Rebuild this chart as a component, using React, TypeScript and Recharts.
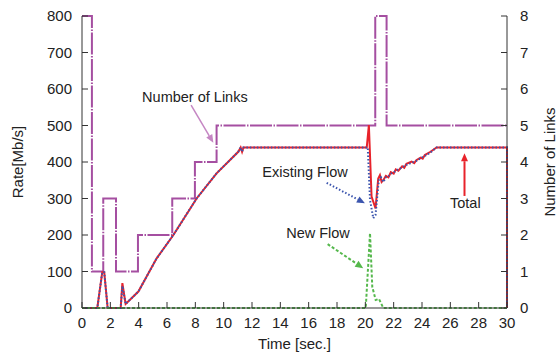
import React from "react";
import {
  ComposedChart,
  Line,
  XAxis,
  YAxis,
  ReferenceLine,
  ReferenceDot,
} from "recharts";

// tick values
const timeTicks = [0, 2, 4, 6, 8, 10, 12, 14, 16, 18, 20, 22, 24, 26, 28, 30];
const rateTicks = [0, 100, 200, 300, 400, 500, 600, 700, 800];
const linkTicks = [0, 1, 2, 3, 4, 5, 6, 7, 8];

// number of links (step)
const linkT = [0, 0.7, 1.5, 2.4, 3.95, 6.37, 7.97, 9.5, 20.7, 21.5, 30];
const linkN = [8, 1, 3, 1, 2, 3, 4, 5, 8, 5, 5];

// total rate
const totalT = [
  0, 1.08, 1.43, 1.57, 1.81, 2.73, 2.85, 3.08, 3.98, 5.27, 6.45, 8.09, 9.5,
  11.03, 11.2, 11.3, 11.4, 20.1, 20.25, 20.44, 20.72, 20.91, 21.03, 21.15,
  21.27, 21.45, 21.63, 21.8, 22.0, 22.15, 22.33, 22.6, 22.75, 22.9, 23.27,
  23.45, 23.6, 23.9, 24.05, 24.2, 24.6, 25.03, 30, 30,
];
const totalV = [
  0, 0, 98, 98, 0, 0, 68, 11, 45, 136, 200, 300, 369, 428, 440, 428, 440, 440,
  501, 305, 273, 355, 364, 345, 350, 362, 358, 372, 368, 380, 376, 388, 384,
  395, 401, 397, 405, 412, 409, 419, 428, 440, 440, 0,
];

// existing flow
const existT = [
  0, 1.08, 1.43, 1.57, 1.81, 2.73, 2.85, 3.08, 3.98, 5.27, 6.45, 8.09, 9.5,
  11.03, 11.2, 11.3, 11.4, 20.17, 20.33, 20.56, 20.72, 20.95, 21.1, 21.27,
  21.45, 21.63, 21.8, 22.0, 22.33, 22.6, 22.9, 23.27, 23.6, 23.9, 24.2, 24.6,
  25.03, 30, 30,
];
const existV = [
  0, 0, 98, 98, 0, 0, 60, 11, 45, 136, 200, 300, 369, 428, 440, 428, 440, 440,
  296, 246, 255, 350, 358, 345, 358, 360, 368, 372, 380, 385, 392, 398, 403,
  410, 417, 426, 440, 440, 0,
];

// new flow
const newT = [0, 20.03, 20.33, 20.49, 20.73, 20.96, 21.27, 30];
const newV = [0, 0, 205, 58, 22, 25, 0, 0];

const toSeries = (ts: number[], vs: number[]) =>
  ts.map((t, i) => ({ t, v: vs[i] }));

const linkData = toSeries(linkT, linkN);
const totalData = toSeries(totalT, totalV);
const existData = toSeries(existT, existV);
const newData = toSeries(newT, newV);

const PURPLE = "#a54fa1";
const RED = "#e8232b";
const BLUE = "#3b55ae";
const GREEN = "#55b84c";
const TEXT = "#222";
const FONT = "'Liberation Sans', Arial, sans-serif";

function arrow(color: string, dash?: string, width = 2) {
  return (p: any) => {
    const { x1, y1, x2, y2 } = p;
    const a = Math.atan2(y2 - y1, x2 - x1);
    const L = 8;
    const W = 3.5;
    const bx = x2 - L * Math.cos(a);
    const by = y2 - L * Math.sin(a);
    const pts = `${x2},${y2} ${bx + W * Math.sin(a)},${by - W * Math.cos(a)} ${
      bx - W * Math.sin(a)
    },${by + W * Math.cos(a)}`;
    return (
      <g>
        <line
          x1={x1}
          y1={y1}
          x2={bx}
          y2={by}
          stroke={color}
          strokeWidth={width}
          strokeDasharray={dash}
        />
        <polygon points={pts} fill={color} />
      </g>
    );
  };
}

const labelStyle = { fontSize: 14.5, fill: TEXT, fontFamily: FONT };

export default function App() {
  return (
    <div style={{ width: 559, height: 356, fontFamily: FONT, background: "#fff" }}>
      <style>{"body{margin:0}"}</style>
      <ComposedChart
        width={559}
        height={356}
        margin={{ top: 16, right: 0, bottom: 0, left: 0 }}
      >
        <XAxis
          xAxisId="b"
          dataKey="t"
          type="number"
          domain={[0, 30]}
          ticks={timeTicks}
          height={48}
          tickSize={-6}
          tickMargin={15}
          stroke="#333"
          tick={{ fill: TEXT, fontSize: 15 }}
          label={{
            value: "Time [sec.]",
            position: "insideBottom",
            offset: 7,
            style: { ...labelStyle, fontSize: 15 },
          }}
        />
        <XAxis
          xAxisId="top"
          orientation="top"
          dataKey="t"
          type="number"
          domain={[0, 30]}
          ticks={timeTicks}
          height={0}
          tickSize={-6}
          stroke="#333"
          tick={() => <g />}
        />
        <YAxis
          yAxisId="left"
          domain={[0, 800]}
          ticks={rateTicks}
          width={82}
          tickSize={-6}
          tickMargin={16}
          stroke="#333"
          tick={{ fill: TEXT, fontSize: 15 }}
          label={{
            value: "Rate[Mb/s]",
            angle: -90,
            position: "insideLeft",
            offset: 18,
            style: { ...labelStyle, fontSize: 15, textAnchor: "middle" },
          }}
        />
        <YAxis
          yAxisId="right"
          orientation="right"
          domain={[0, 8]}
          ticks={linkTicks}
          width={52}
          tickSize={-6}
          tickMargin={19}
          stroke="#333"
          tick={{ fill: TEXT, fontSize: 15 }}
          label={{
            value: "Number of Links",
            angle: -90,
            position: "insideRight",
            offset: 9,
            style: { ...labelStyle, fontSize: 15, textAnchor: "middle" },
          }}
        />

        <Line
          xAxisId="b"
          yAxisId="right"
          data={linkData}
          dataKey="v"
          type="stepAfter"
          stroke={PURPLE}
          strokeWidth={2}
          strokeDasharray="22 1.5 1.5 1.5"
          dot={false}
          isAnimationActive={false}
        />
        <Line
          xAxisId="b"
          yAxisId="left"
          data={totalData}
          dataKey="v"
          type="linear"
          stroke={RED}
          strokeWidth={2}
          dot={false}
          isAnimationActive={false}
        />
        <Line
          xAxisId="b"
          yAxisId="left"
          data={existData}
          dataKey="v"
          type="linear"
          stroke={BLUE}
          strokeWidth={2}
          strokeDasharray="1.5 2"
          dot={false}
          isAnimationActive={false}
        />
        <Line
          xAxisId="b"
          yAxisId="left"
          data={newData}
          dataKey="v"
          type="linear"
          stroke={GREEN}
          strokeWidth={2}
          strokeDasharray="3 2"
          dot={false}
          isAnimationActive={false}
        />

        {/* annotations */}
        <ReferenceLine
          xAxisId="b"
          yAxisId="left"
          segment={[
            { x: 7.7, y: 556 },
            { x: 9.27, y: 453 },
          ]}
          shape={arrow("#c586c3", undefined, 1.5)}
        />
        <ReferenceDot
          xAxisId="b"
          yAxisId="left"
          x={7.97}
          y={578}
          r={0}
          fill="none"
          stroke="none"
          label={{ value: "Number of Links", position: "center", ...labelStyle }}
        />
        <ReferenceLine
          xAxisId="b"
          yAxisId="left"
          segment={[
            { x: 17.27, y: 343 },
            { x: 19.97, y: 287 },
          ]}
          shape={arrow(BLUE, "1.5 2")}
        />
        <ReferenceDot
          xAxisId="b"
          yAxisId="left"
          x={15.74}
          y={373}
          r={0}
          fill="none"
          stroke="none"
          label={{ value: "Existing Flow", position: "center", ...labelStyle }}
        />
        <ReferenceLine
          xAxisId="b"
          yAxisId="left"
          segment={[
            { x: 17.34, y: 175 },
            { x: 19.85, y: 109 },
          ]}
          shape={arrow(GREEN, "3 2")}
        />
        <ReferenceDot
          xAxisId="b"
          yAxisId="left"
          x={16.66}
          y={206}
          r={0}
          fill="none"
          stroke="none"
          label={{ value: "New Flow", position: "center", ...labelStyle }}
        />
        <ReferenceLine
          xAxisId="b"
          yAxisId="left"
          segment={[
            { x: 27, y: 307 },
            { x: 27, y: 424 },
          ]}
          shape={arrow(RED)}
        />
        <ReferenceDot
          xAxisId="b"
          yAxisId="left"
          x={27.06}
          y={288}
          r={0}
          fill="none"
          stroke="none"
          label={{ value: "Total", position: "center", ...labelStyle }}
        />
      </ComposedChart>
    </div>
  );
}
